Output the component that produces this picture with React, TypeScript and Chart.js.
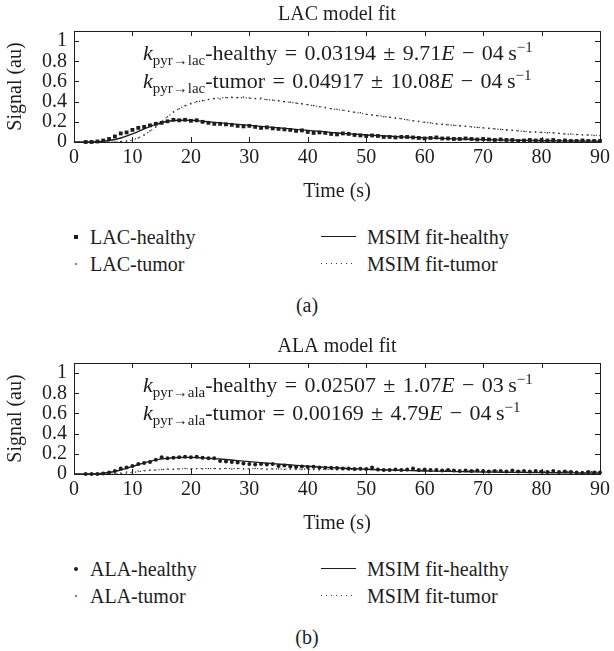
import React, { useEffect, useRef } from "react";
import { Chart, registerables } from "chart.js";
Chart.register(...registerables);

const FONT = "'Liberation Serif', 'Times New Roman', serif";
const INK = "#1d1d1d";

// ---------- data ----------
const DATA_T = [2,3,4,5,6,7,8,9,10,11,12,13,14,15,16,17,18,19,20,21,22,23,24,25,26,27,28,29,30,31,32,33,34,35,36,37,38,39,40,41,42,43,44,45,46,47,48,49,50,51,52,53,54,55,56,57,58,59,60,61,62,63,64,65,66,67,68,69,70,71,72,73,74,75,76,77,78,79,80,81,82,83,84,85,86,87,88,89,90];
const FIT_T = [0,2,4,6,8,10,12,14,16,18,20,22,24,26,28,30,32,34,36,38,40,42,44,46,48,50,52,54,56,58,60,62,64,66,68,70,72,74,76,78,80,82,84,86,88,90];

const LAC_HEALTHY = [0,0,0.005,0.015,0.03,0.055,0.085,0.095,0.12,0.14,0.15,0.165,0.18,0.19,0.205,0.22,0.215,0.22,0.21,0.215,0.2,0.19,0.18,0.18,0.175,0.17,0.16,0.155,0.16,0.15,0.14,0.145,0.135,0.13,0.125,0.12,0.11,0.115,0.1,0.09,0.095,0.09,0.08,0.075,0.085,0.08,0.07,0.065,0.06,0.065,0.06,0.05,0.05,0.045,0.05,0.05,0.045,0.04,0.035,0.04,0.045,0.035,0.035,0.03,0.03,0.035,0.03,0.025,0.03,0.025,0.02,0.025,0.02,0.02,0.01,0.015,0.02,0.015,0.02,0.015,0.02,0.01,0.015,0.01,0.01,0.015,0.01,0.01,0.01];
const LAC_TUMOR = [0,0,0,0,0,0,0.005,0.01,0.02,0.04,0.07,0.11,0.15,0.2,0.25,0.3,0.33,0.36,0.38,0.4,0.41,0.42,0.43,0.425,0.44,0.445,0.44,0.445,0.435,0.43,0.435,0.42,0.415,0.41,0.4,0.395,0.385,0.38,0.37,0.36,0.35,0.345,0.33,0.325,0.315,0.305,0.295,0.29,0.275,0.27,0.26,0.25,0.245,0.235,0.23,0.22,0.21,0.205,0.195,0.19,0.18,0.175,0.17,0.165,0.16,0.155,0.15,0.145,0.14,0.135,0.13,0.125,0.12,0.115,0.11,0.105,0.1,0.1,0.095,0.09,0.09,0.085,0.08,0.08,0.075,0.07,0.07,0.065,0.065];
const LAC_FIT_HEALTHY = [0,0,0.003,0.015,0.04,0.08,0.13,0.175,0.205,0.215,0.215,0.205,0.195,0.185,0.175,0.165,0.155,0.145,0.135,0.125,0.115,0.105,0.095,0.085,0.078,0.07,0.063,0.057,0.051,0.046,0.041,0.037,0.033,0.03,0.027,0.024,0.021,0.019,0.017,0.015,0.013,0.012,0.011,0.01,0.009,0.008];
const LAC_FIT_TUMOR = [0,0,0,0,0.003,0.02,0.07,0.15,0.25,0.33,0.38,0.41,0.43,0.44,0.44,0.435,0.425,0.415,0.4,0.385,0.37,0.35,0.33,0.315,0.295,0.275,0.26,0.245,0.23,0.21,0.195,0.18,0.17,0.16,0.15,0.14,0.13,0.12,0.11,0.1,0.095,0.09,0.08,0.075,0.07,0.065];

const ALA_HEALTHY = [0,0,0,0.005,0.015,0.03,0.055,0.065,0.08,0.1,0.11,0.12,0.14,0.165,0.155,0.16,0.165,0.17,0.165,0.17,0.16,0.155,0.155,0.13,0.125,0.12,0.115,0.105,0.1,0.095,0.1,0.095,0.1,0.08,0.085,0.075,0.07,0.075,0.07,0.072,0.065,0.062,0.063,0.06,0.055,0.055,0.05,0.052,0.05,0.065,0.045,0.04,0.04,0.045,0.04,0.045,0.055,0.04,0.045,0.04,0.04,0.035,0.04,0.035,0.03,0.035,0.03,0.035,0.03,0.025,0.03,0.03,0.025,0.035,0.025,0.03,0.025,0.03,0.025,0.02,0.03,0.02,0.025,0.02,0.015,0.01,0.02,0.015,0.015];
const ALA_TUMOR = [0,0,0,0,0,0.005,0.01,0.02,0.025,0.03,0.035,0.04,0.04,0.045,0.05,0.045,0.05,0.055,0.05,0.055,0.05,0.055,0.055,0.05,0.055,0.05,0.055,0.05,0.05,0.055,0.05,0.045,0.05,0.05,0.045,0.05,0.045,0.045,0.05,0.045,0.04,0.045,0.045,0.04,0.045,0.04,0.04,0.045,0.04,0.04,0.035,0.04,0.04,0.035,0.04,0.035,0.035,0.04,0.035,0.035,0.03,0.035,0.035,0.03,0.035,0.03,0.03,0.035,0.03,0.03,0.03,0.025,0.03,0.03,0.025,0.03,0.025,0.025,0.03,0.025,0.025,0.02,0.025,0.025,0.02,0.025,0.02,0.02,0.02];
const ALA_FIT_HEALTHY = [0,0,0.002,0.015,0.04,0.075,0.11,0.14,0.155,0.163,0.165,0.16,0.152,0.143,0.133,0.123,0.113,0.103,0.094,0.085,0.077,0.07,0.063,0.057,0.052,0.047,0.043,0.039,0.036,0.033,0.03,0.028,0.026,0.024,0.022,0.02,0.019,0.017,0.016,0.015,0.014,0.013,0.012,0.011,0.01,0.01];
const ALA_FIT_TUMOR = [0,0,0,0,0.003,0.015,0.03,0.04,0.047,0.051,0.053,0.054,0.055,0.055,0.054,0.053,0.052,0.051,0.05,0.049,0.048,0.047,0.046,0.045,0.044,0.043,0.042,0.041,0.04,0.039,0.038,0.037,0.036,0.035,0.034,0.033,0.032,0.031,0.03,0.029,0.028,0.027,0.026,0.025,0.025,0.024];

const X_TICK_STEP = 10;
const Y_TICK_STEP = 0.2;

// ---------- helpers ----------
const pts = (xs: number[], ys: number[]) => xs.map((x, i) => ({ x, y: ys[i] }));

const framePlugin = {
  id: "frame",
  afterDraw(chart: any) {
    const { ctx, chartArea: a, scales } = chart;
    const L = 5;
    ctx.save();
    ctx.strokeStyle = INK;
    ctx.lineWidth = 1;
    ctx.beginPath();
    ctx.rect(Math.round(a.left) + 0.5, Math.round(a.top) + 0.5, Math.round(a.right - a.left), Math.round(a.bottom - a.top));
    ctx.stroke();
    ctx.beginPath();
    scales.x.ticks.forEach((t: any) => {
      const px = Math.round(scales.x.getPixelForValue(t.value)) + 0.5;
      ctx.moveTo(px, a.bottom); ctx.lineTo(px, a.bottom - L);
      ctx.moveTo(px, a.top); ctx.lineTo(px, a.top + L);
    });
    scales.y.ticks.forEach((t: any) => {
      const py = Math.round(scales.y.getPixelForValue(t.value)) + 0.5;
      ctx.moveTo(a.left, py); ctx.lineTo(a.left + L, py);
      ctx.moveTo(a.right, py); ctx.lineTo(a.right - L, py);
    });
    ctx.stroke();
    ctx.restore();
  },
};

const CANVAS_H = 206;

function makeDatasets(healthy: number[], tumor: number[], fitH: number[], fitT: number[], healthyStyle: string, healthyRadius: number) {
  return [
    { label: "healthy", data: pts(DATA_T, healthy), showLine: false, pointStyle: healthyStyle, pointRadius: healthyRadius, pointBackgroundColor: INK, pointBorderWidth: 0, clip: false },
    { label: "fit-healthy", data: pts(FIT_T, fitH), borderColor: INK, borderWidth: 1.4, pointRadius: 0, cubicInterpolationMode: "monotone", clip: false },
    { label: "tumor", data: pts(DATA_T, tumor), showLine: false, pointStyle: "circle", pointRadius: 0.8, pointBackgroundColor: "#333", pointBorderWidth: 0, clip: false },
    { label: "fit-tumor", data: pts(FIT_T, fitT), borderColor: "#222", borderWidth: 1.1, borderDash: [1.2, 3.5], pointRadius: 0, cubicInterpolationMode: "monotone", clip: false },
  ];
}

function Panel(props: { top: number; title: string; datasets: any[]; sub: string; kH: string; kT: string; legendData: string; dataMarker: "square" | "dot"; caption: string }) {
  const ref = useRef<HTMLCanvasElement>(null);
  useEffect(() => {
    const font = { family: FONT, size: 20, weight: "normal" as const };
    const chart = new Chart(ref.current!, {
      type: "line",
      data: { datasets: props.datasets as any },
      options: {
        animation: false,
        responsive: false,
        maintainAspectRatio: false,
        layout: { padding: { top: 0, left: 0, right: 11, bottom: 0 } },
        plugins: {
          legend: { display: false },
          tooltip: { enabled: false },
          title: { display: true, text: props.title, font, color: INK, padding: { top: 3, bottom: 4 }, fullSize: false } as any,
        },
        scales: {
          x: {
            type: "linear", min: 0, max: 90,
            ticks: { stepSize: X_TICK_STEP, font, color: INK, padding: 4, maxRotation: 0, autoSkip: false },
            grid: { display: false, drawTicks: false },
            border: { display: false },
            title: { display: true, text: "Time (s)", font, color: INK, padding: { top: 0, bottom: 2 } },
            afterFit: (s: any) => { s.height = CANVAS_H - 142; },
          },
          y: {
            type: "linear", min: 0, max: 1.1,
            ticks: { stepSize: Y_TICK_STEP, includeBounds: false, autoSkip: false, font, color: INK, padding: 7, callback: (v: any) => String(Math.round(Number(v) * 10) / 10) },
            afterBuildTicks: (s: any) => { s.ticks = s.ticks.filter((t: any) => t.value <= 1.0001); },
            grid: { display: false, drawTicks: false },
            border: { display: false },
            title: { display: true, text: "Signal (au)", font, color: INK, padding: { top: 4, bottom: 0 } },
            afterFit: (s: any) => { s.width = 74; },
          },
        },
      } as any,
      plugins: [framePlugin],
    });
    return () => chart.destroy();
  }, []);

  const txt: React.CSSProperties = { position: "absolute", fontFamily: FONT, fontSize: 20, lineHeight: "24px", color: INK, whiteSpace: "nowrap" };
  const subS: React.CSSProperties = { fontSize: 15, position: "relative", top: 5 };
  const supS: React.CSSProperties = { fontSize: 15, position: "relative", top: -8 };
  const S = "\u2004";
  const ann = (label: string, val: string, err: string, exp: string, y: number) => (
    <div style={{ ...txt, fontSize: 22, left: 143, top: y - 12 }}>
      <i>k</i><span style={subS}>{props.sub}</span>-{label}{S}={S}{val}{S}±{S}{err}<i>E</i>{S}−{S}{exp}&#8201;s<span style={supS}>−1</span>
    </div>
  );
  const [vH, eH, xH] = props.kH.split("|");
  const [vT, eT, xT] = props.kT.split("|");
  return (
    <div style={{ position: "absolute", left: 0, top: props.top, width: 614, height: 332 }}>
      <canvas ref={ref} width={614} height={CANVAS_H} style={{ position: "absolute", left: 0, top: 0, width: 614, height: CANVAS_H }} />
      {ann("healthy", vH, eH, xH, 53)}
      {ann("tumor", vT, eT, xT, 81)}
      {/* legend */}
      {props.dataMarker === "square" ? (
        <div style={{ position: "absolute", left: 74, top: 235, width: 4, height: 4, background: INK }} />
      ) : (
        <div style={{ position: "absolute", left: 74, top: 235, width: 4, height: 4, borderRadius: 2, background: INK }} />
      )}
      <div style={{ ...txt, left: 90, top: 237 - 12 }}>{props.legendData}-healthy</div>
      <div style={{ position: "absolute", left: 75, top: 263, width: 1.5, height: 1.5, borderRadius: 1, background: "#555" }} />
      <div style={{ ...txt, left: 90, top: 264 - 12 }}>{props.legendData}-tumor</div>
      <div style={{ position: "absolute", left: 321, top: 236, width: 35, height: 1.4, background: INK }} />
      <div style={{ ...txt, left: 367, top: 237 - 12 }}>MSIM fit-healthy</div>
      <div style={{ position: "absolute", left: 321, top: 263, width: 35, height: 1.2, background: "repeating-linear-gradient(90deg, #333 0 1.2px, transparent 1.2px 5px)" }} />
      <div style={{ ...txt, left: 367, top: 264 - 12 }}>MSIM fit-tumor</div>
      <div style={{ ...txt, left: 0, width: 614, textAlign: "center", top: 305 - 12 }}>{props.caption}</div>
    </div>
  );
}

export default function App() {
  return (
    <div style={{ position: "absolute", left: 0, top: 0, width: 614, height: 651, background: "#fff", overflow: "hidden" }}>
      <Panel
        top={0}
        title="LAC model fit"
        datasets={makeDatasets(LAC_HEALTHY, LAC_TUMOR, LAC_FIT_HEALTHY, LAC_FIT_TUMOR, "rect", 2.7)}
        sub="pyr→lac"
        kH="0.03194|9.71|04"
        kT="0.04917|10.08|04"
        legendData="LAC"
        dataMarker="square"
        caption="(a)"
      />
      <Panel
        top={332}
        title="ALA model fit"
        datasets={makeDatasets(ALA_HEALTHY, ALA_TUMOR, ALA_FIT_HEALTHY, ALA_FIT_TUMOR, "circle", 2)}
        sub="pyr→ala"
        kH="0.02507|1.07|03"
        kT="0.00169|4.79|04"
        legendData="ALA"
        dataMarker="dot"
        caption="(b)"
      />
    </div>
  );
}
